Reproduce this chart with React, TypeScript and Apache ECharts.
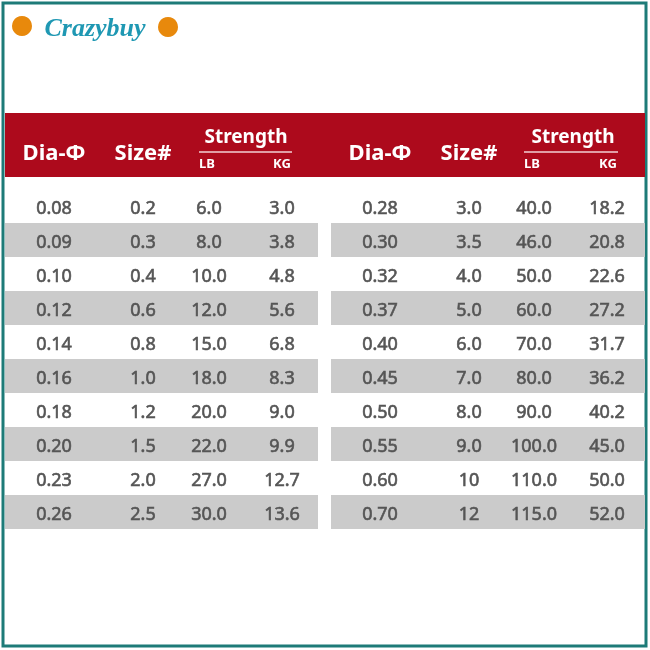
import React, { useEffect, useRef } from "react";
import * as echarts from "echarts";

const headers = ["Dia-Φ", "Size#", "Strength"];
const subHeaders = ["LB", "KG"];
const brand = "Crazybuy";

const diaLeft = ["0.08", "0.09", "0.10", "0.12", "0.14", "0.16", "0.18", "0.20", "0.23", "0.26"];
const sizeLeft = ["0.2", "0.3", "0.4", "0.6", "0.8", "1.0", "1.2", "1.5", "2.0", "2.5"];
const lbLeft = ["6.0", "8.0", "10.0", "12.0", "15.0", "18.0", "20.0", "22.0", "27.0", "30.0"];
const kgLeft = ["3.0", "3.8", "4.8", "5.6", "6.8", "8.3", "9.0", "9.9", "12.7", "13.6"];

const diaRight = ["0.28", "0.30", "0.32", "0.37", "0.40", "0.45", "0.50", "0.55", "0.60", "0.70"];
const sizeRight = ["3.0", "3.5", "4.0", "5.0", "6.0", "7.0", "8.0", "9.0", "10", "12"];
const lbRight = ["40.0", "46.0", "50.0", "60.0", "70.0", "80.0", "90.0", "100.0", "110.0", "115.0"];
const kgRight = ["18.2", "20.8", "22.6", "27.2", "31.7", "36.2", "40.2", "45.0", "50.0", "52.0"];

const FONT = "'Noto Sans', 'Open Sans', sans-serif";

export default function App() {
  const ref = useRef<HTMLDivElement>(null);
  useEffect(() => {
    if (!ref.current) return;
    const chart = echarts.init(ref.current, null, { renderer: "svg" });
    const g: any[] = [];
    // outer border
    g.push({ type: "rect", shape: { x: 3, y: 3, width: 643, height: 643 }, style: { fill: "#fff", stroke: "#1d7b78", lineWidth: 3 } });
    // logo
    g.push({ type: "circle", shape: { cx: 22, cy: 26, r: 10 }, style: { fill: "#e8890c" } });
    g.push({ type: "circle", shape: { cx: 168, cy: 27, r: 10 }, style: { fill: "#e8890c" } });
    g.push({ type: "text", x: 95, y: 27, style: { text: brand, fill: "#1f98b3", font: "italic bold 26px 'Liberation Serif', serif", align: "center", verticalAlign: "middle" } });
    // header band
    g.push({ type: "rect", shape: { x: 5, y: 113, width: 640, height: 64 }, style: { fill: "#ad0a1c" } });

    const blocks = [
      { dia: diaLeft, size: sizeLeft, lb: lbLeft, kg: kgLeft, x: { dia: 54, size: 143, lb: 209, kg: 282, str: 246, l1: 199, l2: 292, slb: 207, skg: 282 }, bx: 5, bw: 313 },
      { dia: diaRight, size: sizeRight, lb: lbRight, kg: kgRight, x: { dia: 380, size: 469, lb: 534, kg: 607, str: 573, l1: 524, l2: 618, slb: 532, skg: 608 }, bx: 331, bw: 314 },
    ];
    blocks.forEach((b) => {
      const hs = (t: string, x: number, y: number, size: number) => g.push({ type: "text", x, y, style: { text: t, fill: "#fff", font: `bold ${size}px ${FONT}`, align: "center", verticalAlign: "middle" } });
      hs(headers[0], b.x.dia, 151, 22);
      hs(headers[1], b.x.size, 151, 22);
      hs(headers[2], b.x.str, 136, 19);
      g.push({ type: "line", shape: { x1: b.x.l1, y1: 152, x2: b.x.l2, y2: 152 }, style: { stroke: "#f3d0d3", lineWidth: 1.5 } });
      hs(subHeaders[0], b.x.slb, 163, 13);
      hs(subHeaders[1], b.x.skg, 163, 13);
      b.dia.forEach((_, i) => {
        if (i % 2 === 1) g.push({ type: "rect", shape: { x: b.bx, y: 189 + 34 * i, width: b.bw, height: 34 }, style: { fill: "#cbcbcb" } });
        const cy = 207 + 34 * i;
        const cell = (t: string, x: number) => g.push({ type: "text", x, y: cy, z: 10, style: { text: t, fill: "#555", stroke: "#555", lineWidth: 0.6, font: `18px ${FONT}`, align: "center", verticalAlign: "middle" } });
        cell(b.dia[i], b.x.dia);
        cell(b.size[i], b.x.size);
        cell(b.lb[i], b.x.lb);
        cell(b.kg[i], b.x.kg);
      });
    });
    chart.setOption({ animation: false, graphic: { elements: g } });
    return () => chart.dispose();
  }, []);
  return <div ref={ref} style={{ position: "fixed", left: 0, top: 0, width: 650, height: 650 }} />;
}
